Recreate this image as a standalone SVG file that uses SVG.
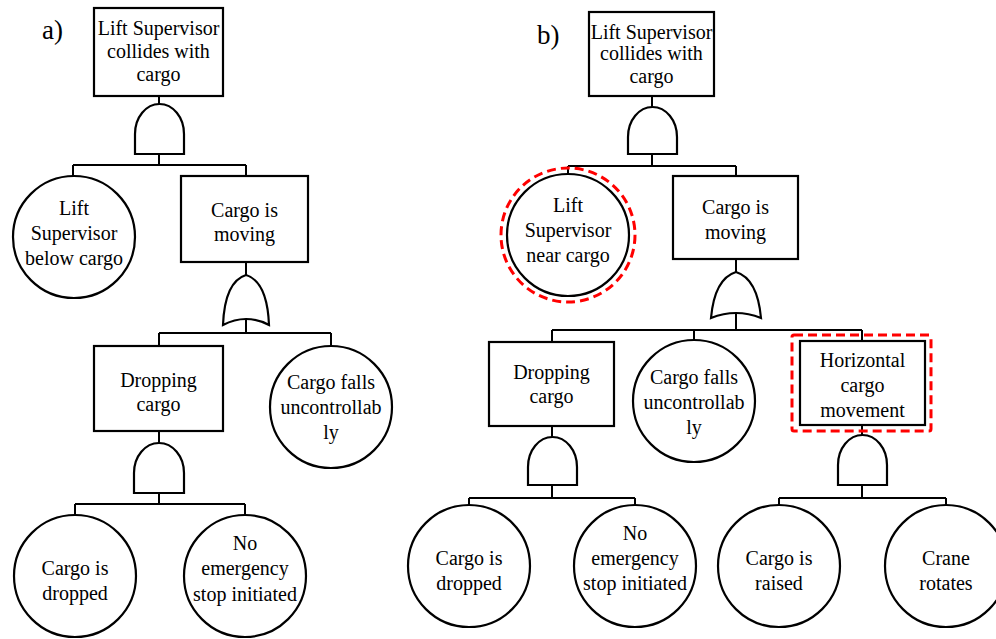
<svg xmlns="http://www.w3.org/2000/svg" width="996" height="639" viewBox="0 0 996 639">
<style>
text{font-family:"Liberation Serif","Times New Roman",serif;font-size:20px;fill:#000;text-anchor:middle}
.lbl{font-size:27px;text-anchor:start}
.box,.ev,.gate{fill:#fff;stroke:#000;stroke-width:2.2}
.con{fill:none;stroke:#000;stroke-width:2}
.hl{fill:none;stroke:#f00;stroke-width:3;stroke-dasharray:9 5}
</style>
<rect x="0" y="0" width="996" height="639" fill="#fff"/>
<g id="connectors">
<path class="con" d="M159,96V104M159,154V165M73,165H246M73,165V176M246,165V176M246,262V275M246,319V333M159,333H331M159,333V346M331,333V346M159,431V443M159,493V504M75,504H245M75,504V515M245,504V515"/>
<path class="con" d="M652,96V107M652,154V166M568,166H736M568,166V174M736,166V176M736,259V272M736,313V330M552,330H862M552,330V342M694,330V340M862,330V341M552,426V437M552,485V498M469,498H635M469,498V505M635,498V505M862,425V435M862,485V498M779,498H946M779,498V505M946,498V505"/>
</g>
<text class="lbl" x="42" y="39">a)</text>
<text class="lbl" x="537" y="44">b)</text>
<g id="a-top"><rect class="box" x="94" y="8" width="129" height="88"/><text x="158.5" y="35">Lift Supervisor</text><text x="158.5" y="58">collides with</text><text x="158.5" y="81">cargo</text></g>
<g id="a-and1"><path class="gate" d="M135,154V134A24.5,30 0 0 1 184,134V154Z"/></g>
<g id="a-below"><circle class="ev" cx="74" cy="237" r="61"/><text x="74" y="215">Lift</text><text x="74" y="240">Supervisor</text><text x="74" y="265">below cargo</text></g>
<g id="a-moving"><rect class="box" x="181" y="176" width="127" height="86"/><text x="244.5" y="217">Cargo is</text><text x="244.5" y="241">moving</text></g>
<g id="a-or"><path class="gate" d="M246,275C262,280 268,300 269,325Q246,313 223,325C224,300 230,280 246,275Z"/></g>
<g id="a-dropping"><rect class="box" x="94" y="346" width="129" height="85"/><text x="158.5" y="387">Dropping</text><text x="158.5" y="411">cargo</text></g>
<g id="a-falls"><circle class="ev" cx="331" cy="407" r="61"/><text x="331" y="389">Cargo falls</text><text x="331" y="414">uncontrollab</text><text x="331" y="439">ly</text></g>
<g id="a-and2"><path class="gate" d="M134,493V473A25,30 0 0 1 184,473V493Z"/></g>
<g id="a-dropped"><circle class="ev" cx="75" cy="576" r="61"/><text x="75" y="575">Cargo is</text><text x="75" y="600">dropped</text></g>
<g id="a-nostop"><circle class="ev" cx="245" cy="576" r="61"/><text x="245" y="550">No</text><text x="245" y="575">emergency</text><text x="245" y="601">stop initiated</text></g>
<g id="b-top"><rect class="box" x="589" y="12" width="125" height="84"/><text x="651.5" y="39">Lift Supervisor</text><text x="651.5" y="60">collides with</text><text x="651.5" y="83">cargo</text></g>
<g id="b-and1"><path class="gate" d="M628,154V137A24.5,30 0 0 1 677,137V154Z"/></g>
<g id="b-near"><circle class="ev" cx="568" cy="235" r="61"/><circle class="hl" cx="568" cy="235" r="67"/><text x="568" y="212">Lift</text><text x="568" y="237">Supervisor</text><text x="568" y="262">near cargo</text></g>
<g id="b-moving"><rect class="box" x="673" y="176" width="125" height="83"/><text x="735.5" y="214">Cargo is</text><text x="735.5" y="239">moving</text></g>
<g id="b-or"><path class="gate" d="M736,272C752,277 759,296 761,318Q736,308 711,318C713,296 720,277 736,272Z"/></g>
<g id="b-dropping"><rect class="box" x="489" y="342" width="125" height="84"/><text x="551.5" y="379">Dropping</text><text x="551.5" y="403">cargo</text></g>
<g id="b-falls"><circle class="ev" cx="694" cy="401" r="61"/><text x="694" y="384">Cargo falls</text><text x="694" y="409">uncontrollab</text><text x="694" y="434">ly</text></g>
<g id="b-horizontal"><rect class="box" x="800" y="341" width="125" height="84"/><rect class="hl" x="792" y="335" width="139" height="96" rx="2"/><text x="862.5" y="367">Horizontal</text><text x="862.5" y="392">cargo</text><text x="862.5" y="417">movement</text></g>
<g id="b-and2"><path class="gate" d="M528,485V467A24.5,30 0 0 1 577,467V485Z"/></g>
<g id="b-and3"><path class="gate" d="M838,485V465A24.5,30 0 0 1 887,465V485Z"/></g>
<g id="b-dropped"><circle class="ev" cx="469" cy="566" r="61"/><text x="469" y="565">Cargo is</text><text x="469" y="590">dropped</text></g>
<g id="b-nostop"><circle class="ev" cx="635" cy="566" r="61"/><text x="635" y="540">No</text><text x="635" y="565">emergency</text><text x="635" y="590">stop initiated</text></g>
<g id="b-raised"><circle class="ev" cx="779" cy="566" r="61"/><text x="779" y="565">Cargo is</text><text x="779" y="590">raised</text></g>
<g id="b-rotates"><circle class="ev" cx="946" cy="566" r="61"/><text x="946" y="565">Crane</text><text x="946" y="590">rotates</text></g>
</svg>
